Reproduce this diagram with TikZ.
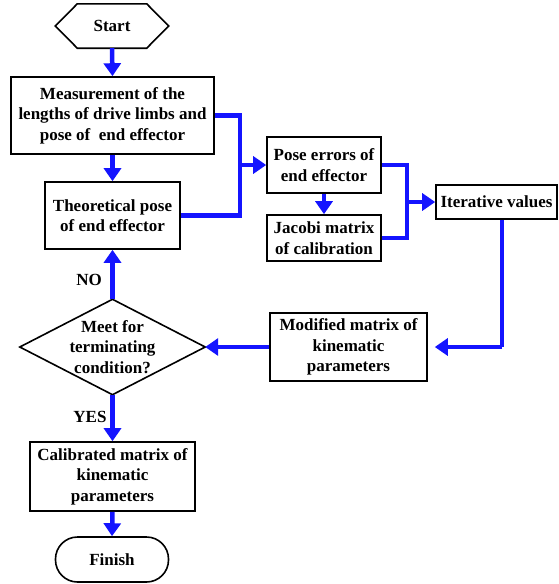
\documentclass[tikz,border=0pt]{standalone}
\usepackage{fontspec}
\setmainfont{Liberation Serif}
\usetikzlibrary{arrows.meta}
\begin{document}
\begin{tikzpicture}[x=1pt,y=-1pt,
  txt/.style={font=\fontsize{17}{20.5}\selectfont\bfseries, align=center, inner sep=0pt},
  box/.style={txt, draw=black, line width=1.6pt, rectangle},
  flow/.style={draw={rgb,255:red,20;green,20;blue,255}, line width=4.5pt, -{Triangle[length=13pt,width=17pt]}},
  link/.style={draw={rgb,255:red,20;green,20;blue,255}, line width=4.5pt, line join=miter}
]
\useasboundingbox (0,0) rectangle (558,584);
% nodes
\node[txt, minimum width=113pt, minimum height=44pt] (start) at (112,26) {Start};
\draw[line width=1.6pt] (start.west) -- ([xshift=22pt]start.north west) -- ([xshift=-22pt]start.north east) -- (start.east) -- ([xshift=-22pt]start.south east) -- ([xshift=22pt]start.south west) -- cycle;
\node[box, minimum width=203pt, minimum height=77pt] (meas) at (112.5,115.5) {Measurement of the\\lengths of drive limbs and\\pose of~ end effector};
\node[box, minimum width=135pt, minimum height=67pt] (theo) at (112.5,215.5) {Theoretical pose\\of end effector};
\node[box, minimum width=114pt, minimum height=56pt] (pose) at (324,165) {Pose errors of\\end effector};
\node[box, minimum width=114pt, minimum height=46pt] (jac) at (324,238) {Jacobi matrix\\of calibration};
\node[box, minimum width=121pt, minimum height=34pt] (iter) at (496.5,202) {Iterative values};
\node[txt, minimum width=185pt, minimum height=95pt] (dec) at (112.5,347) {Meet for\\terminating\\condition?};
\draw[line width=1.6pt] (dec.west) -- (dec.north) -- (dec.east) -- (dec.south) -- cycle;
\node[box, minimum width=157pt, minimum height=68pt] (mod) at (348.5,347) {Modified matrix of\\kinematic\\parameters};
\node[box, minimum width=165pt, minimum height=69pt] (cal) at (112.5,476.5) {Calibrated matrix of\\kinematic\\parameters};
\node[txt, draw=black, line width=1.6pt, rounded corners=22pt, minimum width=113pt, minimum height=45pt] (fin) at (112,559.5) {Finish};
\node[txt] (no) at (89,280) {NO};
\node[txt] (yes) at (90,417) {YES};
% junction coordinates
\coordinate (j1) at (240,165);
\coordinate (j2) at (407,202);
\coordinate (r1) at (502,347);
% connectors
\draw[flow] (start.south) -- (meas.north);
\draw[flow] (meas.south) -- (theo.north);
\draw[link] (meas.east) -- (meas.east -| j1) -- (theo.east -| j1) -- (theo.east);
\draw[flow] (j1) -- (pose.west);
\draw[flow] (pose.south) -- (jac.north);
\draw[link] (pose.east) -- (pose.east -| j2) -- (jac.east -| j2) -- (jac.east);
\draw[flow] (j2) -- (iter.west);
\draw[link] (iter.south -| r1) -- (r1);
\draw[flow, shorten >=7pt] (r1) -- (mod.east);
\draw[flow] (mod.west) -- (dec.east);
\draw[flow] (dec.north) -- (theo.south);
\draw[flow] (dec.south) -- (cal.north);
\draw[flow] (cal.south) -- (fin.north);
\end{tikzpicture}
\end{document}
